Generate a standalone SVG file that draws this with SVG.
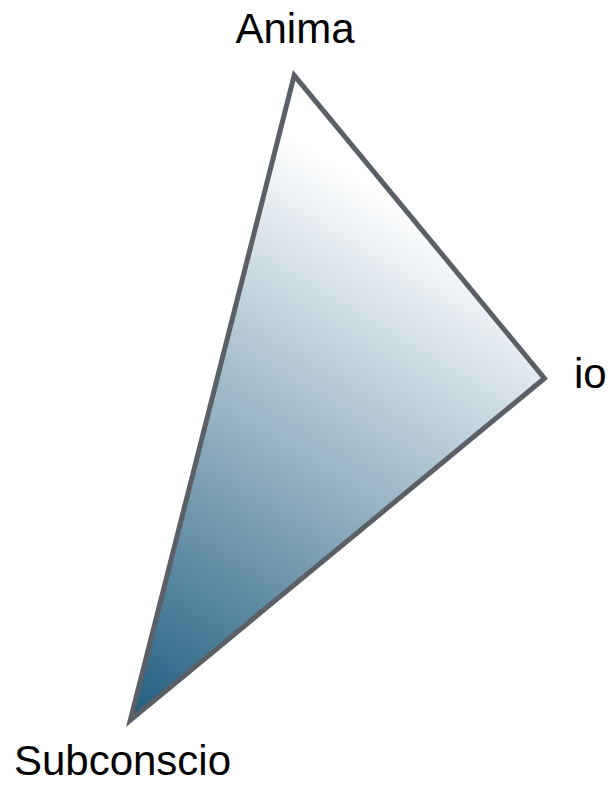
<svg xmlns="http://www.w3.org/2000/svg" width="608" height="785" viewBox="0 0 608 785">
<defs>
<linearGradient id="g" gradientUnits="userSpaceOnUse" x1="130" y1="720" x2="430" y2="220">
<stop offset="0" stop-color="#215d80"/>
<stop offset="1" stop-color="#ffffff"/>
</linearGradient>
<style>
text{font-family:"Liberation Sans",Arial,sans-serif;font-size:42px;fill:#000}
.tri{fill:url(#g);stroke:#5b5f66;stroke-width:5;stroke-linejoin:miter}
</style>
</defs>
<g id="connectors"></g>
<g id="triangle"><polygon class="tri" points="294.2,75.4 544.5,378.3 130.3,720.2"/></g>
<g id="anima"><text x="295" y="43" text-anchor="middle">Anima</text></g>
<g id="io"><text x="574" y="388">io</text></g>
<g id="subconscio"><text x="122.5" y="775" text-anchor="middle">Subconscio</text></g>
</svg>
